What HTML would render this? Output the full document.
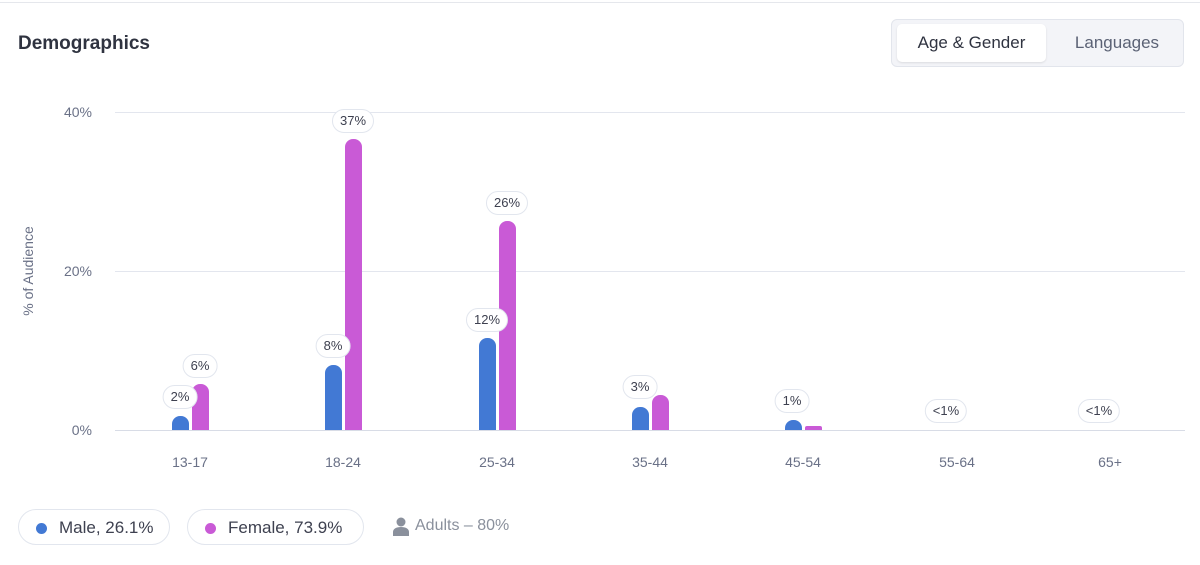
<!DOCTYPE html>
<html><head><style>
body{margin:0;width:1200px;height:565px;background:#fff;font-family:"Liberation Sans",sans-serif;position:relative;overflow:hidden}
.abs{position:absolute}
.pill{position:absolute;height:22px;line-height:22px;border:1.5px solid #e2e6ee;border-radius:12px;background:#fff;font-size:13px;color:#3e4150;text-align:center;transform:translateX(-50%);padding:0 7px;box-sizing:content-box}
.bar{position:absolute;width:17px;border-radius:8px 8px 0 0}
.m{background:#4279d4}.f{background:#c95ad6}
.xl{position:absolute;top:454px;font-size:14px;color:#6a7187;width:80px;text-align:center;transform:translateX(-50%)}
.yl{position:absolute;right:1108px;font-size:14px;color:#6a7187}
.grid{position:absolute;left:115px;width:1070px;height:1px;background:#e3e6ee}
.leg{position:absolute;top:509px;height:36px;border:1.5px solid #e2e6ee;border-radius:19px;font-size:17px;color:#3e4150;line-height:36px;box-sizing:border-box}
.dot{display:inline-block;width:11px;height:11px;border-radius:50%;margin:0 12px 0 17px;vertical-align:-1px}
</style></head><body>
<div class="abs" style="left:0;top:2px;width:1200px;height:1px;background:#e5e7ec"></div>
<div class="abs" style="left:18px;top:33px;font-size:19px;font-weight:bold;color:#2f3340">Demographics</div>
<div class="abs" style="left:891px;top:19px;width:293px;height:48px;background:#f3f4f8;border:1px solid #e2e5ec;border-radius:6px;box-sizing:border-box"></div>
<div class="abs" style="left:897px;top:24px;width:149px;height:38px;background:#fff;border-radius:5px;box-shadow:0 1px 2px rgba(0,0,0,.1);font-size:17px;color:#2f3340;line-height:38px;text-align:center">Age &amp; Gender</div>
<div class="abs" style="left:1050px;top:24px;width:134px;height:38px;font-size:17px;color:#5b6275;line-height:38px;text-align:center">Languages</div>

<div class="grid" style="top:112px"></div><div class="grid" style="top:271px"></div><div class="grid" style="top:430px;background:#d8dce6"></div>
<div class="yl" style="top:104px">40%</div><div class="yl" style="top:263px">20%</div><div class="yl" style="top:422px">0%</div>
<div class="abs" style="left:28px;top:271px;transform:translate(-50%,-50%) rotate(-90deg);font-size:14px;color:#6a7187;white-space:nowrap">% of Audience</div>

<div class="bar m" style="left:172px;top:416px;height:14px"></div><div class="bar f" style="left:192px;top:384px;height:46px"></div>
<div class="bar m" style="left:325px;top:365px;height:65px"></div><div class="bar f" style="left:345px;top:139px;height:291px"></div>
<div class="bar m" style="left:479px;top:338px;height:92px"></div><div class="bar f" style="left:499px;top:221px;height:209px"></div>
<div class="bar m" style="left:632px;top:407px;height:23px"></div><div class="bar f" style="left:652px;top:395px;height:35px"></div>
<div class="bar m" style="left:785px;top:420px;height:10px"></div><div class="bar f" style="left:805px;top:426px;height:4px;border-radius:2px 2px 0 0"></div>

<div class="pill" style="left:180px;top:385px">2%</div>
<div class="pill" style="left:200px;top:354px">6%</div>
<div class="pill" style="left:333px;top:334px">8%</div>
<div class="pill" style="left:353px;top:109px">37%</div>
<div class="pill" style="left:487px;top:308px">12%</div>
<div class="pill" style="left:507px;top:191px">26%</div>
<div class="pill" style="left:640px;top:375px">3%</div>
<div class="pill" style="left:792px;top:389px">1%</div>
<div class="pill" style="left:946px;top:399px">&lt;1%</div>
<div class="pill" style="left:1099px;top:399px">&lt;1%</div>

<div class="xl" style="left:190px">13-17</div><div class="xl" style="left:343px">18-24</div><div class="xl" style="left:497px">25-34</div><div class="xl" style="left:650px">35-44</div><div class="xl" style="left:803px">45-54</div><div class="xl" style="left:957px">55-64</div><div class="xl" style="left:1110px">65+</div>

<div class="leg" style="left:18px;width:152px"><span class="dot m"></span>Male, 26.1%</div>
<div class="leg" style="left:187px;width:177px"><span class="dot f"></span>Female, 73.9%</div>
<div class="abs" style="left:393px;top:517px;width:16px;height:19px">
<svg width="16" height="19" viewBox="0 0 16 19"><circle cx="8" cy="5" r="4.5" fill="#8a909c"/><path d="M0 19v-4c0-3 3-5 8-5s8 2 8 5v4z" fill="#8a909c"/></svg></div>
<div class="abs" style="left:415px;top:517px;font-size:16px;color:#8a909c">Adults – 80%</div>
</body></html>
